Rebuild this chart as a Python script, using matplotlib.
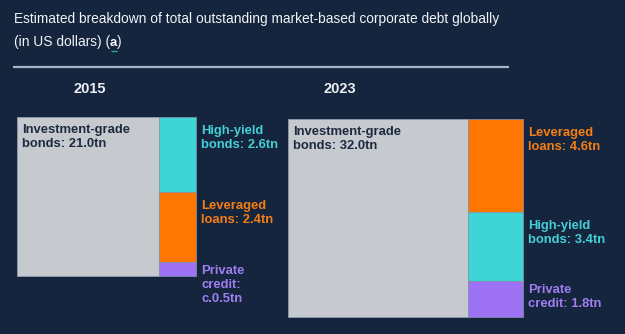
import matplotlib
matplotlib.use("Agg")
import matplotlib.pyplot as plt
from matplotlib.patches import Rectangle

# ---- data ----
years = ["2015", "2023"]
ig_values = [21.0, 32.0]
ig_labels = ["Investment-grade\nbonds: 21.0tn", "Investment-grade\nbonds: 32.0tn"]
# side column segments, top to bottom
side_names = [["High-yield", "Leveraged", "Private"],
              ["Leveraged", "High-yield", "Private"]]
side_values = [[2.6, 2.4, 0.5], [4.6, 3.4, 1.8]]
side_labels = [["High-yield\nbonds: 2.6tn", "Leveraged\nloans: 2.4tn", "Private\ncredit:\nc.0.5tn"],
               ["Leveraged\nloans: 4.6tn", "High-yield\nbonds: 3.4tn", "Private\ncredit: 1.8tn"]]
title_line1 = "Estimated breakdown of total outstanding market-based corporate debt globally"
title_line2 = "(in US dollars) ("
title_note = "a"

# ---- style ----
BG = "#14253d"
colors = {"High-yield": "#3ed5d6", "Leveraged": "#ff7700", "Private": "#9d72f5"}
text_colors = {"High-yield": "#45cfd6", "Leveraged": "#f57d14", "Private": "#9f7ef2"}
IG_COLOR = "#c6cacf"
fam = ["Liberation Sans", "DejaVu Sans"]
title_fam = ["Liberation Sans", "DejaVu Sans"]
TITLE_LEFT, TITLE_RIGHT = 14, 497

# panel boxes in pixel coordinates: (x0, y0, width, height)
boxes = [(17, 117, 179, 159), (288, 119, 235, 198)]
year_x = [90, 340]

fig = plt.figure(figsize=(6.25, 3.34), dpi=100, facecolor=BG)
ax = fig.add_axes([0, 0, 1, 1])
ax.set_xlim(0, 625)
ax.set_ylim(334, 0)
ax.axis("off")
ax.set_facecolor(BG)

# title, size fitted to the reference line length
size = 11.0
t1 = ax.text(TITLE_LEFT, 23, title_line1, color="#f2f4f7", fontsize=size, family=title_fam,
             va="baseline", ha="left")
fig.canvas.draw()
r = fig.canvas.get_renderer()
w = t1.get_window_extent(r).width
size = size * (TITLE_RIGHT - TITLE_LEFT) / w
t1.set_fontsize(size)

t2 = ax.text(TITLE_LEFT, 46, title_line2, color="#f2f4f7", fontsize=size, family=title_fam,
             va="baseline", ha="left")
fig.canvas.draw()
bb = t2.get_window_extent(r)
inv = ax.transData.inverted()
xa = inv.transform((bb.x1, 0))[0]
ta = ax.text(xa, 46, title_note, color="#ffffff", fontsize=size * 0.95, family=title_fam,
             fontweight="bold", va="baseline", ha="left")
fig.canvas.draw()
bba = ta.get_window_extent(r)
xb = inv.transform((bba.x1, 0))[0]
ax.plot([xa + 0.5, xb - 0.5], [50.5, 50.5], color="#2aa9a0", lw=1.0, solid_capstyle="butt")
ax.text(xb, 46, ")", color="#f2f4f7", fontsize=size, family=title_fam,
        va="baseline", ha="left")

# separator
ax.plot([13, 509], [66.5, 66.5], color="#a9b4c6", lw=1.6, solid_capstyle="butt")

for i in range(len(years)):
    x0, y0, W, H = boxes[i]
    total = ig_values[i] + sum(side_values[i])
    ig_w = W * ig_values[i] / total
    ax.add_patch(Rectangle((x0, y0), ig_w, H, facecolor=IG_COLOR, edgecolor="#8796ab", lw=0.7))
    ax.text(x0 + 5, y0 + 7, ig_labels[i], color="#1d2a3e", fontsize=9.4, family=fam,
            fontweight="bold", va="top", ha="left", linespacing=1.25)
    ax.text(year_x[i], 89, years[i], color="#eceef1", fontsize=10.5, family=fam,
            fontweight="bold", va="center", ha="center")
    side_total = sum(side_values[i])
    cx = x0 + ig_w
    cw = W - ig_w
    y = y0
    for name, v, lab in zip(side_names[i], side_values[i], side_labels[i]):
        h = H * v / side_total
        ax.add_patch(Rectangle((cx, y), cw, h, facecolor=colors[name], edgecolor="#8796ab", lw=0.5))
        ax.text(cx + cw + 5, y + (3 if name == "Private" else 8), lab, color=text_colors[name],
                fontsize=9.4, family=fam, fontweight="bold", va="top", ha="left", linespacing=1.25)
        y += h

fig.savefig("out.png", dpi=100, facecolor=BG)
